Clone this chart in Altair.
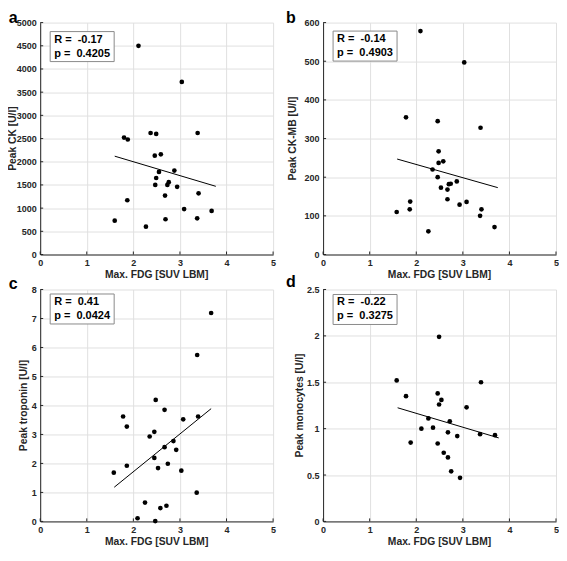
import altair as alt
import pandas as pd

FONT = "Liberation Sans"
TXT = "#262626"
GRID = "#e0e0e0"

x_ticks = [0, 1, 2, 3, 4, 5]
x_title = "Max. FDG [SUV LBM]"

# Panel a: Peak CK
a_x = [1.60, 1.80, 1.88, 1.87, 2.11, 2.27, 2.37, 2.49, 2.46, 2.59, 2.49, 2.47, 2.55,
       2.68, 2.69, 2.73, 2.76, 2.88, 2.94, 3.04, 3.09, 3.38, 3.40, 3.37, 3.68]
a_y = [730, 2520, 2480, 1170, 4500, 600, 2620, 2600, 2130, 2160, 1650, 1500, 1780,
       1270, 760, 1500, 1560, 1810, 1460, 3720, 980, 2620, 1320, 780, 940]
a_fit_x = [1.60, 3.77]
a_fit_y = [2120, 1470]
a_yticks = [0, 500, 1000, 1500, 2000, 2500, 3000, 3500, 4000, 4500, 5000]

# Panel b: Peak CK-MB
b_x = [1.58, 1.78, 1.87, 1.86, 2.09, 2.26, 2.35, 2.46, 2.48, 2.46, 2.48, 2.53, 2.58,
       2.67, 2.67, 2.70, 2.74, 2.87, 2.93, 3.08, 3.37, 3.40, 3.38, 3.03, 3.68]
b_y = [110, 355, 137, 117, 578, 60, 220, 345, 267, 200, 237, 173, 241,
       168, 143, 182, 183, 189, 129, 136, 100, 117, 328, 497, 71]
b_fit_x = [1.59, 3.75]
b_fit_y = [247, 173]
b_yticks = [0, 100, 200, 300, 400, 500, 600]

# Panel c: Peak troponin
c_x = [1.58, 1.78, 1.86, 1.86, 2.09, 2.25, 2.35, 2.45, 2.48, 2.45, 2.47, 2.53, 2.58,
       2.67, 2.67, 2.71, 2.74, 2.86, 2.92, 3.03, 3.07, 3.37, 3.39, 3.36, 3.67]
c_y = [1.68, 3.62, 3.27, 1.92, 0.11, 0.65, 2.93, 3.09, 4.19, 2.19, 0.01, 1.84, 0.46,
       3.85, 2.56, 0.54, 1.99, 2.77, 2.47, 1.75, 3.52, 5.74, 3.62, 0.99, 7.19]
c_fit_x = [1.59, 3.67]
c_fit_y = [1.18, 3.89]
c_yticks = [0, 1, 2, 3, 4, 5, 6, 7, 8]

# Panel d: Peak monocytes
d_x = [1.58, 1.78, 1.88, 2.11, 2.26, 2.36, 2.46, 2.49, 2.49, 2.54, 2.46, 2.59, 2.68,
       2.68, 2.72, 2.75, 2.88, 2.94, 3.08, 3.39, 3.37, 3.69]
d_y = [1.52, 1.35, 0.85, 1.00, 1.11, 1.01, 1.38, 1.99, 1.26, 1.31, 0.84, 0.74, 0.96,
       0.69, 1.08, 0.54, 0.92, 0.47, 1.23, 1.50, 0.94, 0.93]
d_fit_x = [1.60, 3.77]
d_fit_y = [1.225, 0.90]
d_yticks = [0, 0.5, 1, 1.5, 2, 2.5]

W = 233
H = 232


def panel(letter, xs, ys, fx, fy, yticks, ytitle, r_txt, p_txt,
          box_top, y_title_x, letter_x, letter_y):
    xsc = alt.Scale(domain=[0, 5], nice=False, zero=False)
    ysc = alt.Scale(domain=[yticks[0], yticks[-1]], nice=False, zero=False)
    common = dict(format="~f", grid=True, gridColor=GRID, gridWidth=1,
                  domainColor=TXT, domainWidth=1, ticks=False,
                  labelFont=FONT, labelFontSize=9, labelFontWeight="bold",
                  labelColor=TXT, labelPadding=4, labelFlush=False, labelOverlap=False,
                  title=None)
    xax = alt.Axis(values=x_ticks, **common)
    yax = alt.Axis(values=yticks, **common)
    X = alt.X("x:Q", scale=xsc, axis=xax)
    Y = alt.Y("y:Q", scale=ysc, axis=yax)

    pts = pd.DataFrame({"x": xs, "y": ys})
    fit = pd.DataFrame({"x": fx, "y": fy})
    ytk = pd.DataFrame({"y": yticks})
    xtk = pd.DataFrame({"x": x_ticks})
    one = pd.DataFrame({"k": [0]})

    ytick_layer = alt.Chart(ytk).mark_rule(color=TXT, strokeWidth=1).encode(
        y=Y, x=alt.value(0), x2=alt.value(3))
    xtick_layer = alt.Chart(xtk).mark_rule(color=TXT, strokeWidth=1).encode(
        x=X, y=alt.value(H), y2=alt.value(H - 3))
    fit_layer = alt.Chart(fit).mark_line(color="black", strokeWidth=1).encode(x=X, y=Y)
    pt_layer = alt.Chart(pts).mark_circle(size=22, color="black", opacity=1).encode(x=X, y=Y)
    box = alt.Chart(one).mark_rect(fill="white", stroke="#8a8a8a", strokeWidth=1).encode(
        x=alt.value(10), x2=alt.value(74), y=alt.value(box_top), y2=alt.value(box_top + 30))
    txt = dict(font=FONT, fontWeight="bold", color="black")
    t1 = alt.Chart(one).mark_text(align="left", baseline="middle", fontSize=11, **txt).encode(
        x=alt.value(14), y=alt.value(box_top + 8), text=alt.value("R = \u00a0" + r_txt))
    t2 = alt.Chart(one).mark_text(align="left", baseline="middle", fontSize=11, **txt).encode(
        x=alt.value(14), y=alt.value(box_top + 22), text=alt.value("p = \u00a0" + p_txt))
    xt = alt.Chart(one).mark_text(align="center", baseline="middle", fontSize=10.3,
                                  color=TXT, font=FONT, fontWeight="bold").encode(
        x=alt.value(W / 2), y=alt.value(H + 20.5), text=alt.value(x_title))
    yt = alt.Chart(one).mark_text(align="center", baseline="middle", fontSize=10.3, angle=270,
                                  color=TXT, font=FONT, fontWeight="bold").encode(
        x=alt.value(y_title_x), y=alt.value(H / 2), text=alt.value(ytitle))
    lt = alt.Chart(one).mark_text(align="left", baseline="alphabetic", fontSize=16, **txt).encode(
        x=alt.value(letter_x), y=alt.value(letter_y), text=alt.value(letter))
    return alt.layer(ytick_layer, xtick_layer, fit_layer, pt_layer, box, t1, t2,
                     xt, yt, lt).properties(width=W, height=H)


pa = panel("a", a_x, a_y, a_fit_x, a_fit_y, a_yticks, "Peak CK [U/l]", "-0.17", "0.4205",
           9, -27.3, -31.5, 0.5)
pb = panel("b", b_x, b_y, b_fit_x, b_fit_y, b_yticks, "Peak CK-MB [U/l]", "-0.14", "0.4903",
           8.5, -30.3, -37, 0.5)
pc = panel("c", c_x, c_y, c_fit_x, c_fit_y, c_yticks, "Peak troponin [U/l]", "0.41", "0.0424",
           4.5, -16.3, -31.5, -0.7)
pd_ = panel("d", d_x, d_y, d_fit_x, d_fit_y, d_yticks, "Peak monocytes [U/l]", "-0.22", "0.3275",
            5, -22.7, -37, -2.4)

chart = alt.ConcatChart(
    concat=[pa, pb, pc, pd_], columns=2,
    spacing=alt.RowColnumber(row=35, column=50),
    bounds="flush",
    padding={"left": -0.8, "top": 1.5, "right": 0, "bottom": 0},
    autosize=alt.AutoSizeParams(type="pad"),
).configure(background="white").configure_view(stroke=None)

chart.save("out.html", embed_options={"renderer": "svg", "actions": False})
